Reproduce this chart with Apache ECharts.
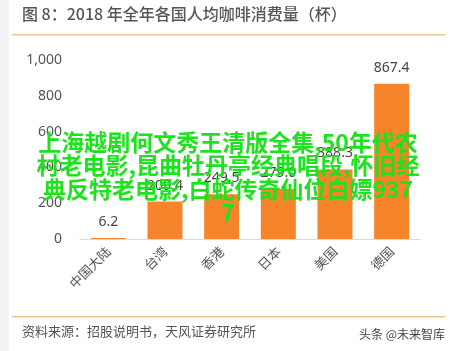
<!DOCTYPE html>
<html>
<head>
<meta charset="utf-8">
<script src="https://cdn.jsdelivr.net/npm/echarts@6/dist/echarts.min.js"></script>
<style>
  html, body { margin: 0; padding: 0; background: #fff; }
  #chart_8 { width: 457px; height: 351px; }
</style>
</head>
<body>
<div id="chart_8"></div>
<script>
var categories = ['中国大陆', '台湾', '香港', '日本', '美国', '德国'];
var cupsPerCapita = [6.2, 209.4, 249.5, 279.0, 388.3, 867.4];
var yTicks = [0, 200, 400, 600, 800, 1000];
var overlayLines = [
    '上海越剧何文秀王清版全集,50年代农',
    '村老电影,昆曲牡丹亭经典唱段,怀旧经',
    '典反特老电影,白蛇传奇仙位白嫖937',
    '7'
];

var myChart = echarts.init(document.getElementById('chart_8'));

var cjk = '"Noto Sans CJK SC", "Noto Sans", sans-serif';
var graphics = [
    // 左侧灰条
    { type: 'rect', left: 0, top: 0, shape: { width: 9, height: 351 }, style: { fill: '#f3f3f3' }, silent: true },
    { type: 'text', left: 22, top: 6, style: { text: '图 8：2018 年全年各国人均咖啡消费量（杯）', fill: '#555', font: '500 16px ' + cjk } },
    { type: 'rect', left: 12, top: 34, shape: { width: 433, height: 1.5 }, style: { fill: '#f1c68e' } },
    { type: 'rect', left: 12, top: 316, shape: { width: 433, height: 1.5 }, style: { fill: '#f1c68e' } },
    { type: 'text', left: 22, top: 325, style: { text: '资料来源：招股说明书，天风证券研究所', fill: '#555', font: '13px ' + cjk } },
    { type: 'text', right: 12, top: 328, style: { text: '头条 @未来智库', fill: '#444', font: '12px ' + cjk } }
];
overlayLines.forEach(function (line, i) {
    graphics.push({
        type: 'text', x: 228, y: 142 + i * 23.5, z: 100,
        style: { text: line, fill: '#1ee21e', font: 'bold 23px ' + cjk, align: 'center', verticalAlign: 'middle' }
    });
});

myChart.setOption({
    animation: false,
    grid: { left: 80, right: 37, top: 60, bottom: 112 },
    graphic: graphics,
    xAxis: {
        type: 'category',
        data: categories,
        axisTick: { show: false },
        axisLine: { lineStyle: { color: '#d6dce4', width: 1 } },
        axisLabel: { rotate: 45, color: '#555', fontSize: 13, margin: 10, fontFamily: cjk }
    },
    yAxis: {
        type: 'value',
        min: yTicks[0],
        max: yTicks[yTicks.length - 1],
        interval: 200,
        splitLine: { show: false },
        axisLine: { show: false },
        axisTick: { show: false },
        axisLabel: {
            color: '#555', fontSize: 14, margin: 18, fontFamily: '"Noto Sans", sans-serif',
            formatter: function (v) { return v.toLocaleString('en-US'); }
        }
    },
    series: [{
        type: 'bar',
        data: cupsPerCapita,
        barWidth: 35,
        itemStyle: { color: '#f5842a' },
        label: {
            show: true, position: 'top', distance: 9, color: '#444', fontSize: 14,
            fontFamily: '"Noto Sans", sans-serif',
            formatter: function (p) { return p.value.toFixed(1); }
        }
    }]
});
</script>
</body>
</html>
